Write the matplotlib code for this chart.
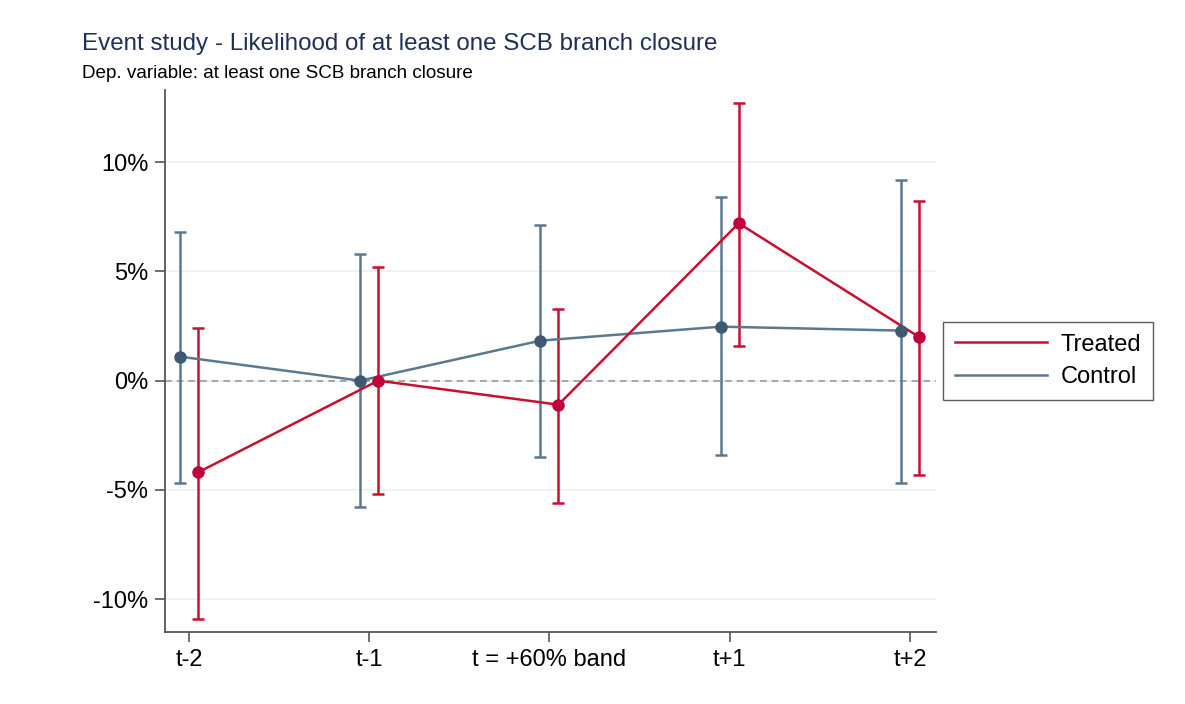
import matplotlib
matplotlib.use("Agg")
import matplotlib.pyplot as plt
import numpy as np

plt.rcParams['font.family'] = ['Liberation Sans', 'DejaVu Sans']

periods = ["t-2", "t-1", "t = +60% band", "t+1", "t+2"]
treated = [-4.2, 0.0, -1.1, 7.2, 2.0]
treated_lo = [-10.9, -5.2, -5.6, 1.6, -4.3]
treated_hi = [2.4, 5.2, 3.3, 12.7, 8.2]
control = [1.1, 0.0, 1.83, 2.47, 2.29]
control_lo = [-4.7, -5.8, -3.5, -3.4, -4.7]
control_hi = [6.8, 5.8, 7.1, 8.4, 9.2]
yticks = [-10, -5, 0, 5, 10]

red = "#c8102e"
red_m = "#c0003a"
blue = "#5a7890"
blue_m = "#3e5a72"

fig = plt.figure(figsize=(11.85, 7.04), dpi=100)
ax = fig.add_axes([0.1392, 0.1023, 0.6506, 0.7699])

x = np.arange(len(periods))
off = 0.05
xc = x - off
xt = x + off

for yv in yticks:
    ax.axhline(yv, color="#eaf1f4", lw=1.2, zorder=0)
ax.axhline(0, color="#999999", lw=1.2, ls=(0, (4, 3)), zorder=1)

c = np.array(control)
ax.errorbar(xc, c, yerr=[c - np.array(control_lo), np.array(control_hi) - c],
            fmt='none', ecolor=blue, elinewidth=1.8, capsize=4.5, capthick=1.8, zorder=2)
t = np.array(treated)
ax.errorbar(xt, t, yerr=[t - np.array(treated_lo), np.array(treated_hi) - t],
            fmt='none', ecolor=red, elinewidth=1.8, capsize=4.5, capthick=1.8, zorder=2)

ax.plot(xc, c, color=blue, lw=1.8, zorder=3, label="Control")
ax.plot(xc, c, 'o', color=blue_m, ms=8, zorder=4)
ax.plot(xt, t, color=red, lw=1.8, zorder=3, label="Treated")
ax.plot(xt, t, 'o', color=red_m, ms=8, zorder=4)

ax.set_xlim(-0.133, 4.144)
ax.set_ylim(-11.5, 13.3)
ax.set_xticks(x)
ax.set_xticklabels(periods, fontsize=17)
ax.set_yticks(yticks)
ax.set_yticklabels([f"{v}%" for v in yticks], fontsize=17)
ax.tick_params(axis='both', direction='out', length=7, width=1.2, color="#555555", pad=5)
for s in ["top", "right"]:
    ax.spines[s].set_visible(False)
for s in ["left", "bottom"]:
    ax.spines[s].set_color("#555555")
    ax.spines[s].set_linewidth(1.3)

h, l = ax.get_legend_handles_labels()
leg = fig.legend([h[1], h[0]], [l[1], l[0]], loc="center left",
                 bbox_to_anchor=(931 / 1185, 1 - 361 / 704), fontsize=17,
                 frameon=True, fancybox=False, edgecolor="#333333",
                 handlelength=3.9, borderpad=0.5, labelspacing=0.45, handletextpad=0.6)
leg.get_frame().set_linewidth(1.0)

fig.text(82 / 1185, 1 - 44 / 704, "Event study - Likelihood of at least one SCB branch closure",
         fontsize=17.4, color="#1f2f55", va="center", ha="left")
fig.text(82 / 1185, 1 - 73 / 704, "Dep. variable: at least one SCB branch closure",
         fontsize=13.6, color="black", va="center", ha="left")

fig.savefig("out.png", dpi=100, facecolor="white")
